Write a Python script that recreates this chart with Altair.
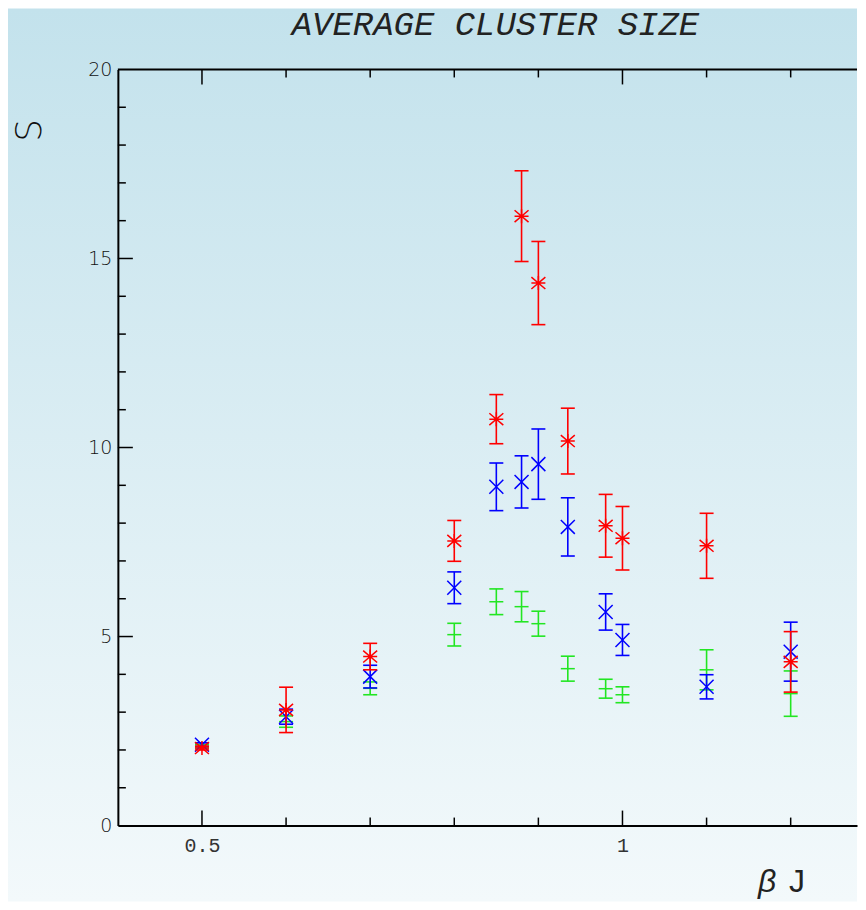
import altair as alt
import pandas as pd

# ---------------- data ----------------
beta_j = [0.5, 0.6, 0.7, 0.8, 0.85, 0.88, 0.9, 0.935, 0.98, 1.0, 1.1, 1.2]

red_s = [2.05, 3.06, 4.47, 7.53, 10.75, 16.12, 14.35, 10.17, 7.93, 7.60, 7.40, 4.33]
red_err = [0.05, 0.60, 0.35, 0.54, 0.65, 1.20, 1.10, 0.87, 0.83, 0.84, 0.86, 0.80]

blue_s = [2.14, 2.88, 3.94, 6.29, 8.96, 9.09, 9.56, 7.90, 5.65, 4.91, 3.67, 4.60]
blue_err = [0.05, 0.20, 0.30, 0.42, 0.63, 0.69, 0.93, 0.77, 0.48, 0.41, 0.32, 0.78]

green_s = [2.10, 2.75, 3.63, 5.05, 5.92, 5.79, 5.34, 4.15, 3.62, 3.46, 4.12, 3.49]
green_err = [0.05, 0.15, 0.17, 0.30, 0.34, 0.40, 0.33, 0.33, 0.25, 0.21, 0.53, 0.60]

x_major_ticks = [0.5, 1.0]
x_minor_ticks = [0.6, 0.7, 0.8, 0.9, 1.1, 1.2]
y_major_ticks = [5, 10, 15]
y_minor_ticks = [1, 2, 3, 4, 6, 7, 8, 9, 11, 12, 13, 14, 16, 17, 18, 19]
y_labels = [0, 5, 10, 15, 20]

title_text = "AVERAGE CLUSTER SIZE"
y_title = "S"
x_title_beta = "β"
x_title_j = "J"

# ---------------- layout ----------------
W, H = 740, 757
PX_PER_UNIT = 842.0
xs = alt.Scale(domain=[0.4, 0.4 + W / PX_PER_UNIT], nice=False, zero=False)
ys = alt.Scale(domain=[0, 20], nice=False, zero=False)

xaxis = alt.Axis(values=x_major_ticks, format="~g", ticks=False, grid=False,
                 domain=True, domainColor="black", domainWidth=2, zindex=2,
                 labelFont="Liberation Mono", labelFontSize=20, labelColor="#333",
                 labelPadding=10, title=None)
yaxis = alt.Axis(values=y_labels, ticks=False, grid=False,
                 domain=True, domainColor="black", domainWidth=2, zindex=2,
                 labelFont="DejaVu Sans", labelFontWeight=200, labelFontSize=19,
                 labelColor="#111", labelPadding=6, title=None)


def X(field):
    return alt.X(field, type="quantitative", scale=xs, axis=xaxis)


def Y(field):
    return alt.Y(field, type="quantitative", scale=ys, axis=yaxis)


def series_df(ys_, es_):
    return pd.DataFrame({
        "x": beta_j,
        "s": ys_,
        "lo": [a - b for a, b in zip(ys_, es_)],
        "hi": [a + b for a, b in zip(ys_, es_)],
    })


ASTERISK = "M-1,-0.85L1,0.85M-1,0.85L1,-0.85M-1,0L1,0M0,-1L0,1"
XMARK = "M-1,-1L1,1M-1,1L1,-1"
HMARK = "M-1,0L1,0"


def series_layers(ys_, es_, color, shape):
    d = series_df(ys_, es_)
    base = alt.Chart(d)
    bar = base.mark_rule(color=color, strokeWidth=1.6).encode(
        x=X("x"), y=Y("lo"), y2="hi")
    cap_lo = base.mark_tick(color=color, orient="horizontal", size=14,
                            thickness=1.6, opacity=1).encode(x=X("x"), y=Y("lo"))
    cap_hi = base.mark_tick(color=color, orient="horizontal", size=14,
                            thickness=1.6, opacity=1).encode(x=X("x"), y=Y("hi"))
    pts = base.mark_point(shape=shape, filled=False, strokeWidth=1.5, size=196,
                          color=color, opacity=1).encode(x=X("x"), y=Y("s"))
    return [bar, cap_lo, cap_hi, pts]


one = pd.DataFrame({"a": [0]})

bg = alt.Chart(one).mark_rect(
    color=alt.LinearGradient(
        gradient="linear",
        stops=[alt.GradientStop(color="#c3e2ec", offset=0),
               alt.GradientStop(color="#f3f9fb", offset=1)],
        x1=0, x2=0, y1=0, y2=1),
).encode(x=alt.value(-110), x2=alt.value(W), y=alt.value(-61), y2=alt.value(833))

top_border = alt.Chart(one).mark_rule(color="black", strokeWidth=2).encode(
    x=alt.value(0), x2=alt.value(W), y=alt.value(0))

xmaj = pd.DataFrame({"x": x_major_ticks})
xmin = pd.DataFrame({"x": x_minor_ticks})
ymaj = pd.DataFrame({"s": y_major_ticks})
ymin = pd.DataFrame({"s": y_minor_ticks})

tick_layers = [
    alt.Chart(xmaj).mark_rule(color="black", strokeWidth=1.5).encode(
        x=X("x"), y=alt.value(H - 15), y2=alt.value(H)),
    alt.Chart(xmin).mark_rule(color="black", strokeWidth=1.5).encode(
        x=X("x"), y=alt.value(H - 8), y2=alt.value(H)),
    alt.Chart(xmaj).mark_rule(color="black", strokeWidth=1.5).encode(
        x=X("x"), y=alt.value(0), y2=alt.value(15)),
    alt.Chart(xmin).mark_rule(color="black", strokeWidth=1.5).encode(
        x=X("x"), y=alt.value(0), y2=alt.value(8)),
    alt.Chart(ymaj).mark_rule(color="black", strokeWidth=1.5).encode(
        y=Y("s"), x=alt.value(0), x2=alt.value(15)),
    alt.Chart(ymin).mark_rule(color="black", strokeWidth=1.5).encode(
        y=Y("s"), x=alt.value(0), x2=alt.value(8)),
]

texts = [
    alt.Chart(one).mark_text(text=title_text, font="Liberation Mono", fontStyle="italic",
                             fontSize=34, color="#222", align="center",
                             baseline="alphabetic").encode(
        x=alt.value(378), y=alt.value(-34)),
    alt.Chart(one).mark_text(text=y_title, font="DejaVu Sans", fontWeight=200,
                             fontSize=36, color="#111", angle=270, align="center",
                             baseline="middle").encode(
        x=alt.value(-88), y=alt.value(61)),
    alt.Chart(one).mark_text(text=x_title_beta, font="Liberation Sans",
                             fontStyle="italic", fontSize=32, color="#222",
                             align="center", baseline="alphabetic").encode(
        x=alt.value(650), y=alt.value(824)),
    alt.Chart(one).mark_text(text=x_title_j, font="Liberation Sans",
                             fontSize=32, color="#222",
                             align="center", baseline="alphabetic").encode(
        x=alt.value(680), y=alt.value(824)),
]

layers = ([bg, top_border] + tick_layers
          + series_layers(green_s, green_err, "#22e622", HMARK)
          + series_layers(blue_s, blue_err, "#0000ff", XMARK)
          + series_layers(red_s, red_err, "#ff0000", ASTERISK)
          + texts)

chart = alt.layer(*layers).properties(
    width=W, height=H, padding=0, background="white"
).configure_view(stroke=None)

chart.save("out.html", embed_options={"renderer": "svg", "actions": False})
